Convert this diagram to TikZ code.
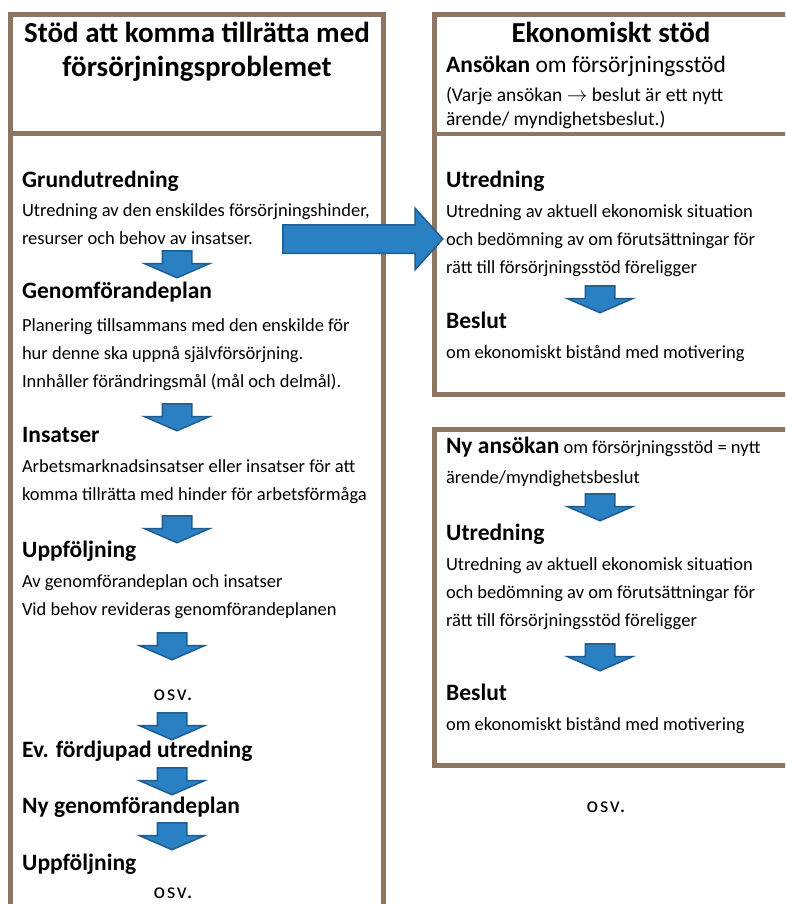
\documentclass[tikz,border=0pt]{standalone}
\usepackage{fontspec}
\setmainfont{Carlito}
\usetikzlibrary{shapes.arrows}
\definecolor{framebrown}{RGB}{140,117,97}
\definecolor{arrowblue}{RGB}{41,128,194}
\definecolor{arrowedge}{RGB}{30,92,145}
\begin{document}
\begin{tikzpicture}[
		x=1pt,y=-1pt,
		frame/.style={draw=framebrown, line width=4.5pt},
		title/.style={font=\fontsize{29}{34}\selectfont\bfseries, anchor=base},
		head/.style={font=\fontsize{23.5}{28}\selectfont\bfseries, anchor=base west, inner sep=0pt},
		body/.style={font=\fontsize{18.5}{28}\selectfont, align=left, anchor=text, inner sep=0pt},
		etc/.style={font=\fontsize{22}{24}\selectfont\addfontfeature{LetterSpace=8}, anchor=base},
		down/.style={single arrow, shape border rotate=270, fill=arrowblue, draw=arrowedge, line width=1.5pt,
				inner xsep=14pt, inner ysep=0pt, minimum height=27pt,
				single arrow head extend=18pt, single arrow tip angle=133, anchor=tail},
	]
			\useasboundingbox (0,0) rectangle (785,904);
			\clip (0,0) rectangle (785,904);
			\draw[frame] (10.5,920) -- (10.5,14.5) -- (383.5,14.5) -- (383.5,920);
			\draw[frame] (10.5,133.5) -- (383.5,133.5);
			\draw[frame] (800,14.5) -- (434.5,14.5) -- (434.5,394.5) -- (800,394.5);
			\draw[frame] (434.5,134) -- (800,134);
			\draw[frame] (800,429.5) -- (434.5,429.5) -- (434.5,765.5) -- (800,765.5);
			\node[title] (stodA) at (197,43) {Stöd att komma tillrätta med};
			\node[title] (stodB) at (197,77) {försörjningsproblemet};
			\node[head] (grund) at (22,187) {Grundutredning};
			\node[body] (grundtxt) at (22,244) {Utredning av den enskildes försörjningshinder,\\resurser och behov av insatser.};
			\node[head] (plan) at (22,298) {Genomförandeplan};
			\node[body] (plantxt) at (22,387) {Planering tillsammans med den enskilde för\\hur denne ska uppnå självförsörjning.\\Innhåller förändringsmål (mål och delmål).};
			\node[head] (insats) at (22,442) {Insatser};
			\node[body] (insatstxt) at (22,500) {Arbetsmarknadsinsatser eller insatser för att\\komma tillrätta med hinder för arbetsförmåga};
			\node[head] (uppf) at (22,557) {Uppföljning};
			\node[body] (uppftxt) at (22,615) {Av genomförandeplan och insatser\\Vid behov revideras genomförandeplanen};
			\node[etc] (osvA) at (173,700) {osv.};
			\node[head] (fordjup) at (22,757) {Ev. fördjupad utredning};
			\node[head] (nyplan) at (22,813) {Ny genomförandeplan};
			\node[head] (uppfB) at (22,870) {Uppföljning};
			\node[etc] (osvB) at (173,898) {osv.};
			\node[title] (eko) at (611,43) {Ekonomiskt stöd};
			\node[anchor=base west, inner sep=0pt, font=\fontsize{23.5}{28}\selectfont] (ansok) at (446,73) {\textbf{Ansökan} om försörjningsstöd};
			\node[body, font=\fontsize{19.5}{24}\selectfont] (varje) at (446,126) {(Varje ansökan $\rightarrow$ beslut är ett nytt\\ärende/ myndighetsbeslut.)};
			\node[head] (utr) at (446,187) {Utredning};
			\node[body] (utrtxt) at (446,273) {Utredning av aktuell ekonomisk situation\\och bedömning av om förutsättningar för\\rätt till försörjningsstöd föreligger};
			\node[head] (beslut) at (446,328) {Beslut};
			\node[body] (beslutxt) at (446,358) {om ekonomiskt bistånd med motivering};
			\node[body, font=\fontsize{18.5}{30}\selectfont] (nyans) at (446,483) {{\fontsize{23.5}{28}\selectfont\bfseries Ny ansökan} om försörjningsstöd = nytt\\ärende/myndighetsbeslut};
			\node[head] (utrB) at (446,540) {Utredning};
			\node[body] (utrtxtB) at (446,626) {Utredning av aktuell ekonomisk situation\\och bedömning av om förutsättningar för\\rätt till försörjningsstöd föreligger};
			\node[head] (beslutB) at (446,700) {Beslut};
			\node[body] (beslutxtB) at (446,730) {om ekonomiskt bistånd med motivering};
			\node[etc] (osvC) at (606,812) {osv.};
			\foreach \x/\y/\n in {177/250/a,177/403/b,177/515/c,172/632/d,172/712/e,172/767/f,172/822/g,600/285/h,600/493/i,600/643/j}
				\node[down] (arrow\n) at (\x,\y) {};
			\node[single arrow, fill=arrowblue, draw=arrowedge, line width=1.5pt, inner xsep=0pt, inner ysep=13.5pt,
				minimum height=160pt, single arrow head extend=16.5pt, single arrow tip angle=96, anchor=tail] (toeko) at (282,239) {};
		\end{tikzpicture}
\end{document}
